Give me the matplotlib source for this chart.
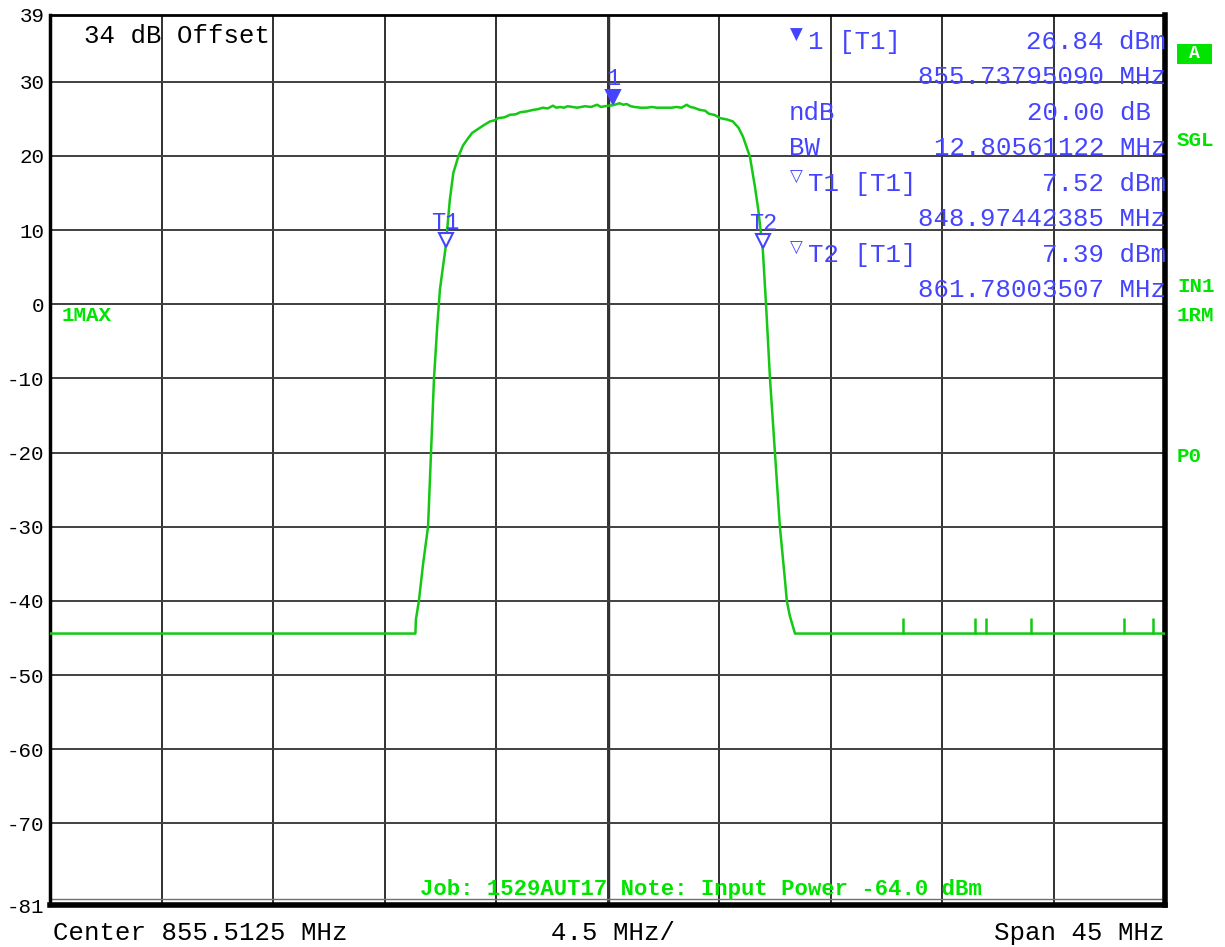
import matplotlib
matplotlib.use("Agg")
import matplotlib.pyplot as plt
from matplotlib.patches import Rectangle
from matplotlib.transforms import offset_copy

# Sweep settings
center_mhz = 855.5125
span_mhz = 45.0
ref_top = 39
ref_bottom = -81

# Trace (frequency in MHz, level in dBm)
trace_freq = [833.0125, 847.76, 847.78, 847.90, 848.07, 848.27, 848.39, 848.51,
              848.64, 848.75, 848.87, 848.974, 849.15, 849.29, 849.49, 849.68,
              849.89, 850.05, 850.23, 850.50, 850.77, 850.95, 851.10, 851.35,
              851.58, 851.80, 852.00, 852.25, 852.50, 852.70, 852.90, 853.10,
              853.31, 853.45, 853.60, 853.75, 853.90, 854.10, 854.28, 854.45,
              854.60, 854.85, 855.09, 855.25, 855.40, 855.738, 856.00, 856.15,
              856.28, 856.45, 856.60, 856.85, 857.09, 857.30, 857.50, 857.70,
              857.90, 858.10, 858.30, 858.50, 858.71, 858.85, 859.00, 859.24,
              859.45, 859.60, 859.85, 860.05, 860.35, 860.57, 860.80, 860.98,
              861.26, 861.46, 861.60, 861.78, 861.91, 862.07, 862.27, 862.47,
              862.67, 862.75, 862.87, 863.08, 878.0125]
trace_level = [-44.4, -44.4, -42.5, -40.0, -35.0, -30.0, -20.0, -10.0,
               -3.0, 2.0, 5.0, 7.52, 14.1, 17.7, 19.9, 21.4,
               22.4, 23.1, 23.5, 24.1, 24.65, 24.8, 25.1, 25.2,
               25.55, 25.6, 25.9, 26.0, 26.2, 26.3, 26.5, 26.4,
               26.77, 26.5, 26.6, 26.5, 26.7, 26.6, 26.5, 26.6,
               26.7, 26.6, 26.9, 26.6, 26.7, 26.84, 27.1, 26.9,
               27.0, 26.7, 26.6, 26.5, 26.5, 26.6, 26.5, 26.5,
               26.5, 26.5, 26.6, 26.5, 26.9, 26.6, 26.5, 26.2,
               26.1, 25.7, 25.5, 25.1, 24.9, 24.65, 23.8, 22.6,
               19.9, 15.9, 12.7, 7.39, 0.0, -10.0, -20.0, -30.0,
               -37.0, -40.0, -42.0, -44.4, -44.4]

# Small spurs on the noise floor
spur_freq = [867.42, 870.34, 870.78, 872.59, 876.37, 877.54]
spur_level = [-42.3, -42.3, -42.3, -42.3, -42.3, -42.3]
floor_level = -44.4

# Markers
marker_names = ["1", "T1", "T2"]
marker_freq = [855.73795090, 848.97442385, 861.78003507]
marker_level = [26.84, 7.52, 7.39]

y_ticks = [39, 30, 20, 10, 0, -10, -20, -30, -40, -50, -60, -70, -81]

green = "#14c814"
blue = "#4444ff"
bright = "#00e400"
mono = ["Liberation Mono", "DejaVu Sans Mono"]

W, H = 1225, 947
fig = plt.figure(figsize=(W / 100, H / 100), dpi=100)
ax = fig.add_axes([50 / W, 1 - 905 / H, 1115 / W, 890 / H])

f_start = center_mhz - span_mhz / 2
f_stop = center_mhz + span_mhz / 2
ax.set_xlim(f_start, f_stop)
ax.set_ylim(ref_bottom, ref_top)

# grid: 10 divisions across, 10 dB steps up
div = span_mhz / 10
for i in range(1, 10):
    ax.axvline(f_start + i * div, color="#303030", lw=1.4, zorder=1)
ax.axvline(center_mhz + 0.06, color="#303030", lw=1.0, zorder=1)
for yv in y_ticks[1:-1]:
    ax.axhline(yv, color="#404040", lw=1.4, zorder=1)
ax.axhline(ref_bottom + 0.8, color="#707070", lw=1.0, zorder=1)

ax.set_yticks(y_ticks)
ax.set_yticklabels([str(v) for v in y_ticks], family=mono, fontsize=15)
ax.set_xticks([])
ax.tick_params(axis="y", length=0, pad=4)

for side, lw in (("left", 2.5), ("right", 4), ("top", 2), ("bottom", 4)):
    ax.spines[side].set_linewidth(lw)
    ax.spines[side].set_color("black")

# trace + spurs
ax.plot(trace_freq, trace_level, color=green, lw=1.8, zorder=3)
ax.vlines(spur_freq, floor_level, spur_level, color=green, lw=1.8, zorder=3)

# markers on the trace
up_tri = offset_copy(ax.transData, fig=fig, x=0, y=6, units="points")
up_lbl = offset_copy(ax.transData, fig=fig, x=0, y=19, units="points")
for name, f, lv in zip(marker_names, marker_freq, marker_level):
    filled = name == "1"
    ax.plot([f], [lv], marker="v", ms=10, mew=1.5, color=blue,
            mfc=blue if filled else "white", transform=up_tri, zorder=4)
    ax.text(f, lv, name, transform=up_lbl, color=blue, family=mono,
            fontsize=17, ha="center", va="center", zorder=4)


def ptxt(px, py, s, **kw):
    kw.setdefault("family", mono)
    kw.setdefault("va", "center")
    fig.text(px / W, 1 - py / H, s, **kw)


# marker readout
ptxt(796, 35, "\u25bc", color=blue, fontsize=12, ha="center", family="DejaVu Sans")
ptxt(808, 42, "1 [T1]", color=blue, fontsize=18.5)
ptxt(1166, 42, "26.84 dBm", color=blue, fontsize=18.5, ha="right")
ptxt(1166, 77, "855.73795090 MHz", color=blue, fontsize=18.5, ha="right")
ptxt(789, 113, "ndB", color=blue, fontsize=18.5)
ptxt(1151, 113, "20.00 dB", color=blue, fontsize=18.5, ha="right")
ptxt(789, 148, "BW", color=blue, fontsize=18.5)
ptxt(1166, 148, "12.80561122 MHz", color=blue, fontsize=18.5, ha="right")
ptxt(796, 177, "\u25bd", color=blue, fontsize=12, ha="center", family="DejaVu Sans")
ptxt(808, 184, "T1 [T1]", color=blue, fontsize=18.5)
ptxt(1166, 184, "7.52 dBm", color=blue, fontsize=18.5, ha="right")
ptxt(1166, 219, "848.97442385 MHz", color=blue, fontsize=18.5, ha="right")
ptxt(796, 248, "\u25bd", color=blue, fontsize=12, ha="center", family="DejaVu Sans")
ptxt(808, 255, "T2 [T1]", color=blue, fontsize=18.5)
ptxt(1166, 255, "7.39 dBm", color=blue, fontsize=18.5, ha="right")
ptxt(1166, 290, "861.78003507 MHz", color=blue, fontsize=18.5, ha="right")

ptxt(84, 36, "34 dB Offset", color="black", fontsize=18.5)
ptxt(62, 315, "1MAX", color=bright, fontsize=15, weight="bold")
ptxt(420, 889, "Job: 1529AUT17 Note: Input Power -64.0 dBm", color=bright,
     fontsize=16, weight="bold")

# side annotations
fig.patches.append(Rectangle((1177 / W, 1 - 64 / H), 35 / W, 20 / H,
                             transform=fig.transFigure, fc=bright, ec="none"))
ptxt(1194.5, 54, "A", color="white", fontsize=13, weight="bold", ha="center")
ptxt(1177, 141, "SGL", color=bright, fontsize=15, weight="bold")
ptxt(1177, 286, "IN1", color=bright, fontsize=15, weight="bold")
ptxt(1177, 315, "1RM", color=bright, fontsize=15, weight="bold")
ptxt(1177, 456, "P0", color=bright, fontsize=15, weight="bold")

# footer
ptxt(53, 933, "Center %.4f MHz" % center_mhz, color="black", fontsize=18.5)
ptxt(551, 933, "%.1f MHz/" % div, color="black", fontsize=18.5)
ptxt(1164, 933, "Span %g MHz" % span_mhz, color="black", fontsize=18.5, ha="right")

fig.savefig("out.png", dpi=100, facecolor="white")
